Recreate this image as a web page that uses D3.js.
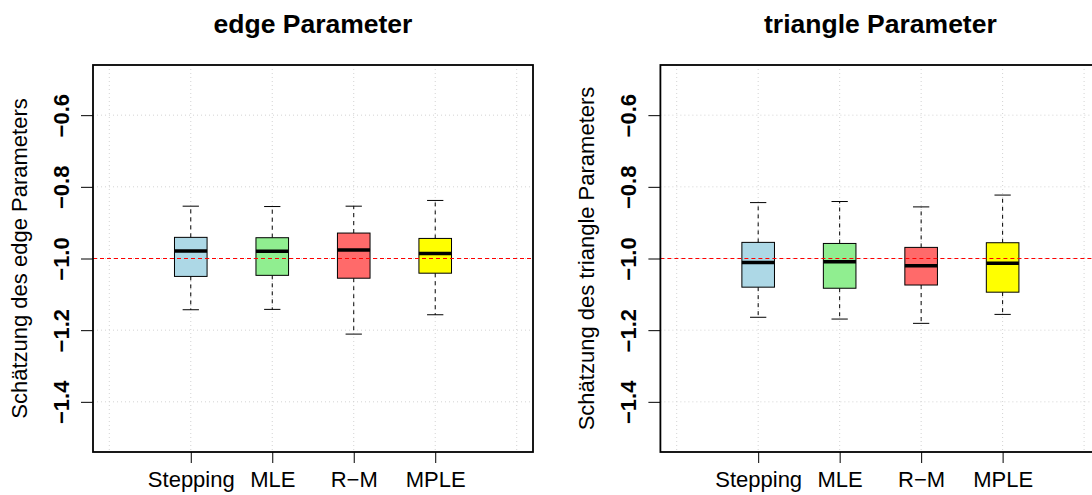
<!DOCTYPE html>
<html><head><meta charset="utf-8">
<script src="https://cdn.jsdelivr.net/npm/d3@7"></script>
<style>body{margin:0;background:#fff} text{font-family:"Liberation Sans",Arial,sans-serif}</style>
</head><body><svg id="c" width="1092" height="495"></svg>
<script>
const methods = ["Stepping","MLE","R\u2212M","MPLE"];
const boxColors = ["#ADD8E6","#90EE90","#FF6A6A","#FFFF00"];
const yTicks = [-1.4,-1.2,-1.0,-0.8,-0.6];
const gridX = [0,1,2,3,4,5];
const trueValue = -1.0;

const edgeLowerWhisker = [-1.143,-1.142,-1.211,-1.157];
const edgeQ1 = [-1.050,-1.047,-1.055,-1.041];
const edgeMedian = [-0.979,-0.980,-0.976,-0.986];
const edgeQ3 = [-0.941,-0.942,-0.929,-0.944];
const edgeUpperWhisker = [-0.854,-0.855,-0.854,-0.838];

const triLowerWhisker = [-1.164,-1.169,-1.181,-1.156];
const triQ1 = [-1.080,-1.083,-1.074,-1.094];
const triMedian = [-1.011,-1.009,-1.020,-1.013];
const triQ3 = [-0.955,-0.958,-0.969,-0.956];
const triUpperWhisker = [-0.844,-0.841,-0.856,-0.823];

const panels = [
  {title:"edge Parameter", ylab:"Schätzung des edge Parameters", left:93,
   lo:edgeLowerWhisker, q1:edgeQ1, med:edgeMedian, q3:edgeQ3, hi:edgeUpperWhisker},
  {title:"triangle Parameter", ylab:"Schätzung des triangle Parameters", left:660.4,
   lo:triLowerWhisker, q1:triQ1, med:triMedian, q3:triQ3, hi:triUpperWhisker}
];

const svg = d3.select("#c");
const W = 440, plotTop = 65, plotBottom = 452;
const FS = 22;

panels.forEach(p => {
  const x = d3.scaleLinear().domain([-0.2, 5.2]).range([p.left, p.left + W]);
  const y = d3.scaleLinear().domain([-1.54, -0.46]).range([plotBottom, plotTop]);
  const g = svg.append("g");

  // grid
  g.selectAll(".gx").data(gridX).join("line")
    .attr("x1", d => x(d)).attr("x2", d => x(d)).attr("y1", plotTop).attr("y2", plotBottom)
    .attr("stroke", "#D3D3D3").attr("stroke-dasharray", "1,3").attr("stroke-width", 1);
  g.selectAll(".gy").data(yTicks).join("line")
    .attr("y1", d => y(d)).attr("y2", d => y(d)).attr("x1", p.left).attr("x2", p.left + W)
    .attr("stroke", "#D3D3D3").attr("stroke-dasharray", "1,3").attr("stroke-width", 1);

  const idx = d3.range(methods.length);
  const bw = 0.2, sw = 0.1;
  // whiskers
  g.selectAll(".wu").data(idx).join("line")
    .attr("x1", i => x(i+1)).attr("x2", i => x(i+1))
    .attr("y1", i => y(p.q3[i])).attr("y2", i => y(p.hi[i]))
    .attr("stroke", "#000").attr("stroke-dasharray", "4,4");
  g.selectAll(".wl").data(idx).join("line")
    .attr("x1", i => x(i+1)).attr("x2", i => x(i+1))
    .attr("y1", i => y(p.q1[i])).attr("y2", i => y(p.lo[i]))
    .attr("stroke", "#000").attr("stroke-dasharray", "4,4");
  // staples
  g.selectAll(".su").data(idx).join("line")
    .attr("x1", i => x(i+1-sw)).attr("x2", i => x(i+1+sw))
    .attr("y1", i => y(p.hi[i])).attr("y2", i => y(p.hi[i]))
    .attr("stroke", "#000");
  g.selectAll(".sl").data(idx).join("line")
    .attr("x1", i => x(i+1-sw)).attr("x2", i => x(i+1+sw))
    .attr("y1", i => y(p.lo[i])).attr("y2", i => y(p.lo[i]))
    .attr("stroke", "#000");
  // boxes
  g.selectAll(".bx").data(idx).join("rect")
    .attr("x", i => x(i+1-bw)).attr("width", i => x(i+1+bw) - x(i+1-bw))
    .attr("y", i => y(p.q3[i])).attr("height", i => y(p.q1[i]) - y(p.q3[i]))
    .attr("fill", i => boxColors[i]).attr("stroke", "#000").attr("stroke-width", 1);
  // medians
  g.selectAll(".md").data(idx).join("line")
    .attr("x1", i => x(i+1-bw)).attr("x2", i => x(i+1+bw))
    .attr("y1", i => y(p.med[i])).attr("y2", i => y(p.med[i]))
    .attr("stroke", "#000").attr("stroke-width", 3.5);

  // reference line
  g.append("line")
    .attr("x1", p.left).attr("x2", p.left + W)
    .attr("y1", y(trueValue)).attr("y2", y(trueValue))
    .attr("stroke", "#FF0000").attr("stroke-dasharray", "4,3").attr("stroke-width", 1);

  // frame
  g.append("rect").attr("x", p.left).attr("y", plotTop).attr("width", W).attr("height", plotBottom - plotTop)
    .attr("fill", "none").attr("stroke", "#000").attr("stroke-width", 1.8);

  // y axis
  const ya = g.append("g").attr("transform", `translate(${p.left},0)`)
    .call(d3.axisLeft(y).tickValues(yTicks).tickFormat(d3.format(".1f")).tickSize(12));
  ya.select(".domain").remove();
  ya.selectAll(".tick line").attr("stroke", "#000").attr("stroke-width", 1);
  ya.selectAll(".tick text")
    .attr("x", 0).attr("y", -24).attr("dy", 0)
    .attr("transform", "rotate(-90)").attr("text-anchor", "middle")
    .attr("font-size", FS).attr("font-weight", "bold").attr("fill", "#000")
    .style("font-family", '"Liberation Sans",Arial,sans-serif');

  // x axis
  const xa = g.append("g").attr("transform", `translate(0,${plotBottom})`)
    .call(d3.axisBottom(x).tickValues([1,2,3,4]).tickFormat((d) => methods[d-1]).tickSize(11));
  xa.select(".domain").remove();
  xa.selectAll(".tick line").attr("stroke", "#000").attr("stroke-width", 1);
  xa.selectAll(".tick text").attr("y", 34.5).attr("dy", 0)
    .attr("font-size", FS).attr("fill", "#000")
    .style("font-family", '"Liberation Sans",Arial,sans-serif');

  // titles
  svg.append("text").attr("x", p.left + W/2).attr("y", 33)
    .attr("text-anchor", "middle").attr("font-size", 26.5).attr("font-weight", "bold")
    .text(p.title);
  svg.append("text")
    .attr("transform", `translate(${p.left - 66},${(plotTop+plotBottom)/2}) rotate(-90)`)
    .attr("text-anchor", "middle").attr("font-size", FS)
    .text(p.ylab);
});
</script></body></html>
